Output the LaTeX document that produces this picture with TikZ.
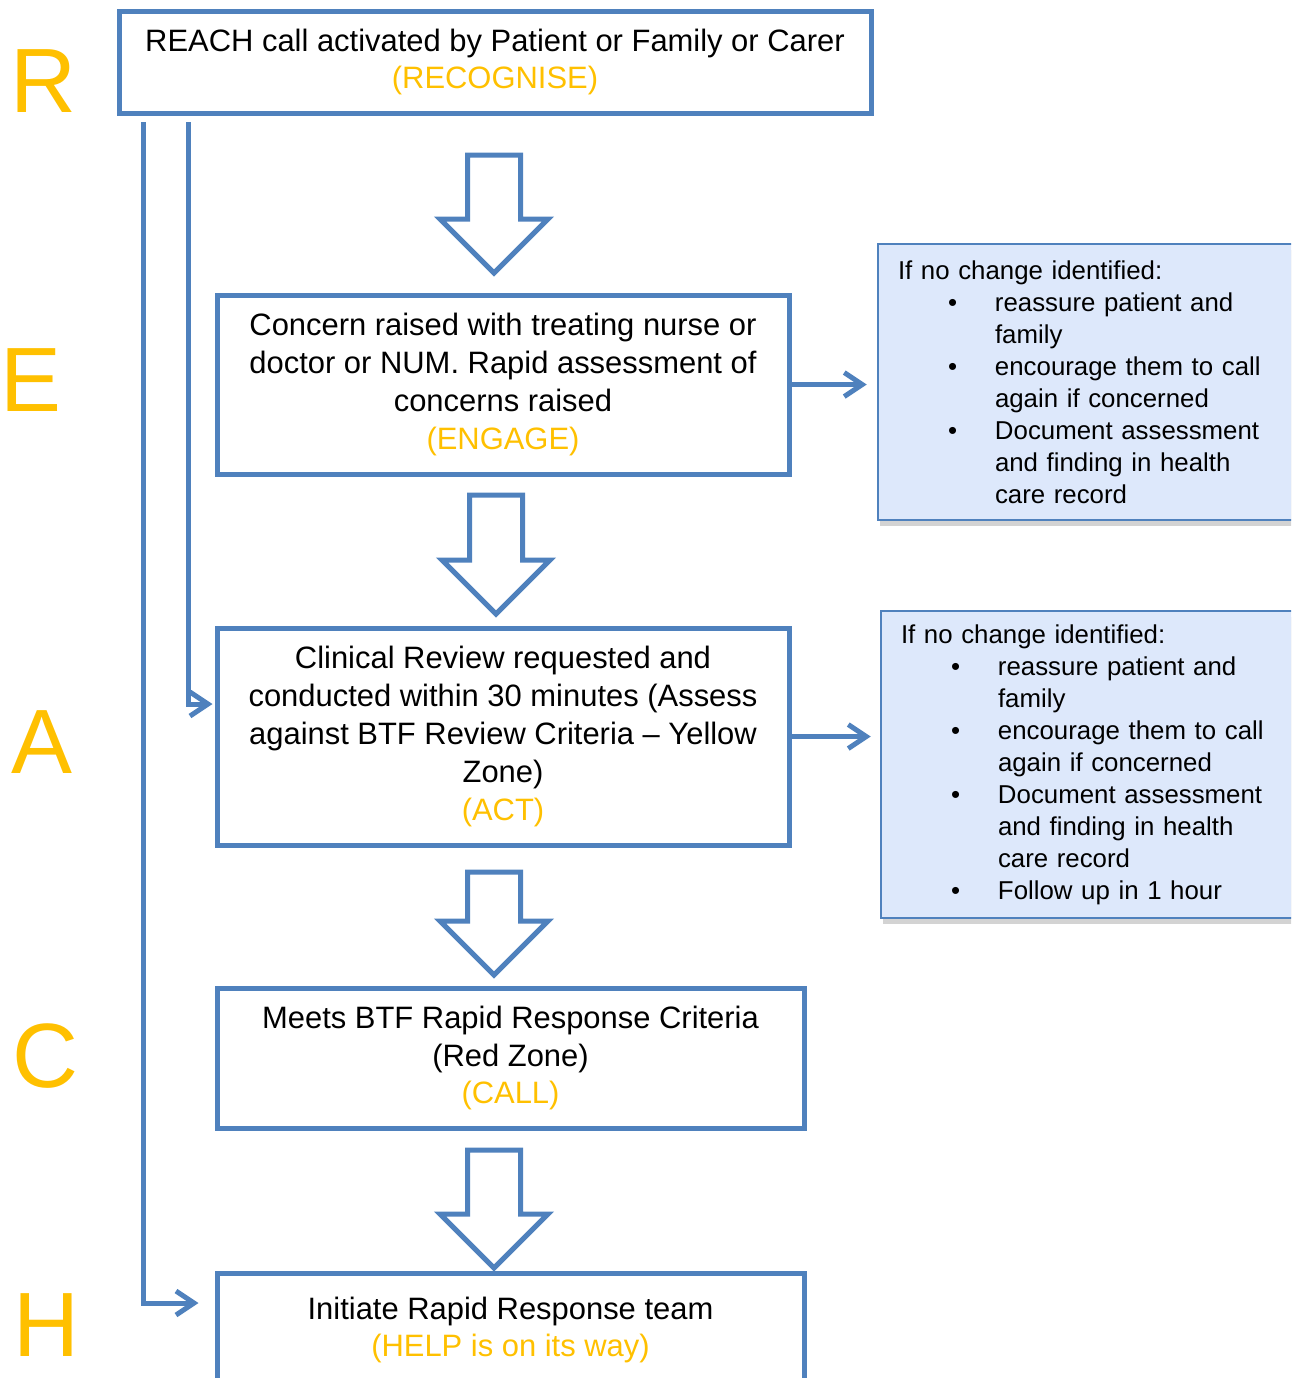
\documentclass[tikz,border=0pt]{standalone}
\usepackage{fontspec}
\setmainfont{Liberation Sans}
\usetikzlibrary{shadows}
\usetikzlibrary{arrows.meta,shapes.arrows}
\usetikzlibrary{calc}
\definecolor{reachblue}{RGB}{79,129,189}
\definecolor{reachyellow}{RGB}{255,192,0}
\definecolor{notefill}{RGB}{221,232,251}
\tikzstyle{stepbox}=[draw=reachblue,line width=0.5mm,align=center,font=\fontsize{8.8}{10.8}\selectfont,inner sep=0pt]
\tikzstyle{notebox}=[draw=reachblue,line width=0.25mm,fill=notefill,align=left,font=\fontsize{7.35}{9.1}\selectfont,inner xsep=2mm,inner ysep=0pt,drop shadow={shadow xshift=0.2mm,shadow yshift=-0.6mm,opacity=0.35}]
\tikzstyle{blockarrow}=[single arrow,draw=reachblue,line width=0.5mm,fill=white,rotate=-90,anchor=tail,inner xsep=0pt,inner ysep=2.4mm,single arrow head extend=2.75mm]
\tikzstyle{link}=[draw=reachblue,line width=0.5mm,-{Straight Barb[length=1.8mm,width=2.4mm]}]
\tikzstyle{letter}=[text=reachyellow,font=\fontsize{26}{30}\selectfont,inner sep=0pt]
\newcommand{\bul}{\hspace*{5mm}\makebox[4.7mm][l]{\textbullet}}
\newcommand{\ind}{\hspace*{9.7mm}}
\newcommand{\yel}[1]{{\color{reachyellow}#1}}
\begin{document}
\begin{tikzpicture}[x=0.1mm,y=-0.1mm]

    \path[use as bounding box, clip] (0,0) rectangle (1291,1378);

    % the five steps
    \node[stepbox, minimum width=75.2mm, minimum height=10.2mm] (recognise) at (495,62)
        {REACH call activated by Patient or Family or Carer\\ \yel{(RECOGNISE)}};
    \node[stepbox, minimum width=57.2mm, minimum height=17.9mm] (engage) at (503,384.5)
        {Concern raised with treating nurse or\\ doctor or NUM. Rapid assessment of\\ concerns raised\\ \yel{(ENGAGE)}};
    \node[stepbox, minimum width=57.2mm, minimum height=21.7mm] (act) at (503,736.5)
        {Clinical Review requested and\\ conducted within 30 minutes (Assess\\ against BTF Review Criteria -- Yellow\\ Zone)\\ \yel{(ACT)}};
    \node[stepbox, minimum width=58.7mm, minimum height=14mm] (call) at (510.5,1058)
        {Meets BTF Rapid Response Criteria\\ (Red Zone)\\ \yel{(CALL)}};
    \node[stepbox, minimum width=58.7mm, minimum height=11.4mm] (help) at (510.5,1330)
        {Initiate Rapid Response team\\ \yel{(HELP is on its way)}};

    % side notes
    \node[notebox, text width=38.5mm, minimum height=27.6mm] (note1) at (1090.5,382)
        {If no change identified:\\
         \bul reassure patient and\\ \ind family\\
         \bul encourage them to call\\ \ind again if concerned\\
         \bul Document assessment\\ \ind and finding in health\\ \ind care record};
    \node[notebox, text width=38.5mm, minimum height=30.7mm] (note2) at (1093.5,764.5)
        {If no change identified:\\
         \bul reassure patient and\\ \ind family\\
         \bul encourage them to call\\ \ind again if concerned\\
         \bul Document assessment\\ \ind and finding in health\\ \ind care record\\
         \bul Follow up in 1 hour};

    % hollow arrows between the steps
    \foreach \pos/ \name / \len in {{(494,152.5)/down1/11.8mm},{(496,492.5)/down2/11.9mm},
                                    {(494,869.5)/down3/10.3mm},{(494,1147.5)/down4/11.8mm}}
        \node[blockarrow, minimum height=\len] (\name) at \pos {};

    % letters
    \foreach \pos/ \name / \letter in {{(43.5,81.5)/letR/R},{(31,380)/letE/E},{(41.5,742)/letA/A},
                                       {(45,1056)/letC/C},{(46,1325)/letH/H}}
        \node[letter] (\name) at \pos {\letter};

    % links
    \coordinate (skip1) at (143,122);
    \coordinate (skip2) at (188,122);
    \draw[link, shorten >=1.6mm] (skip1) |- ([yshift=2.7mm]help.west);
    \draw[link, shorten >=0.2mm] (skip2) |- ([yshift=3.25mm]act.west);
    \draw[link, shorten >=1mm] (engage.east) -- (engage.east -| note1.west);
    \draw[link, shorten >=0.9mm] (act.east) -- (act.east -| note2.west);

\end{tikzpicture}
\end{document}
